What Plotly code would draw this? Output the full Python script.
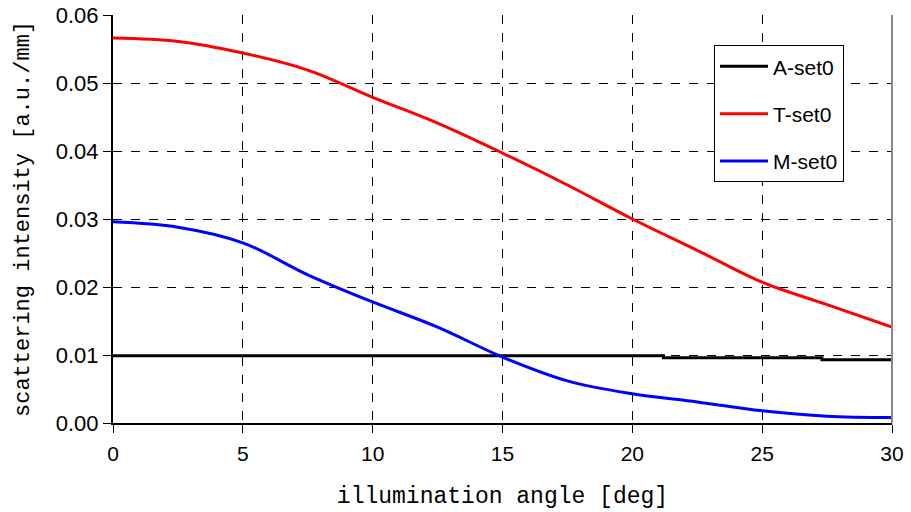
import plotly.graph_objects as go

angle = [0, 2.5, 5, 7.5, 10, 12.5, 15, 17.5, 20, 22.5, 25, 27.5, 30]
t_set0 = [0.0566, 0.0561, 0.0544, 0.0519, 0.0479, 0.0441, 0.0397, 0.0350, 0.0300, 0.0254, 0.0207, 0.0174, 0.0141]
m_set0 = [0.0296, 0.0288, 0.0265, 0.0218, 0.0178, 0.0141, 0.0097, 0.0062, 0.0043, 0.0031, 0.0018, 0.0010, 0.0008]
a_angle = [0, 21.2, 21.2, 27.3, 27.3, 30]
a_set0 = [0.0099, 0.0099, 0.0096, 0.0096, 0.0093, 0.0093]

x_ticks = [0, 5, 10, 15, 20, 25, 30]
y_ticks = [0.00, 0.01, 0.02, 0.03, 0.04, 0.05, 0.06]

fig = go.Figure()
fig.add_trace(go.Scatter(x=a_angle, y=a_set0, mode="lines", name="A-set0", legendgroup="a",
                         line=dict(color="black", width=3)))
fig.add_trace(go.Scatter(x=angle, y=t_set0, mode="lines", name="T-set0", legendgroup="t",
                         line=dict(color="#ff0000", width=3, shape="spline")))
fig.add_trace(go.Scatter(x=angle, y=m_set0, mode="lines", name="M-set0", legendgroup="m",
                         line=dict(color="#0000ff", width=3, shape="spline")))

fig.update_layout(
    width=911, height=512,
    margin=dict(l=113, r=19, t=15, b=89),
    paper_bgcolor="white", plot_bgcolor="white",
    showlegend=True,
    legend=dict(x=0.7715, y=0.926, xanchor="left", yanchor="top",
                bgcolor="white", bordercolor="black", borderwidth=1,
                font=dict(family="Liberation Sans, Arial", size=21, color="black"),
                tracegroupgap=17, itemwidth=48),
)
fig.update_xaxes(
    range=[0, 30], tickvals=x_ticks, ticktext=[str(v) for v in x_ticks],
    automargin=False,
    showgrid=True, gridcolor="black", griddash="dash", gridwidth=1,
    showline=True, linecolor="black", linewidth=2,
    ticks="outside", ticklen=8, tickcolor="black", tickwidth=1,
    ticklabelstandoff=3,
    tickfont=dict(family="Liberation Sans, Arial", size=21, color="black"),
    zeroline=False,
    title=dict(text="illumination angle [deg]", standoff=23,
               font=dict(family="Liberation Mono, Courier New", size=23, color="black")),
)
fig.update_yaxes(
    range=[0, 0.06], tickvals=y_ticks, ticktext=[f"{v:.2f}" for v in y_ticks],
    automargin=False,
    showgrid=True, gridcolor="black", griddash="dash", gridwidth=1,
    showline=True, linecolor="black", linewidth=2,
    ticks="outside", ticklen=8, tickcolor="black", tickwidth=1,
    tickfont=dict(family="Liberation Sans, Arial", size=22, color="black"),
    zeroline=False,
    title=dict(text="scattering intensity [a.u./mm]", standoff=20,
               font=dict(family="Liberation Mono, Courier New", size=22, color="black")),
)
fig.add_shape(type="line", xref="paper", yref="paper", x0=1, x1=1, y0=0, y1=1,
              line=dict(color="#888888", width=2))

fig.write_html("out.html", config={"displayModeBar": False},
               post_script="document.body.style.margin='0';document.body.style.overflow='hidden';")
